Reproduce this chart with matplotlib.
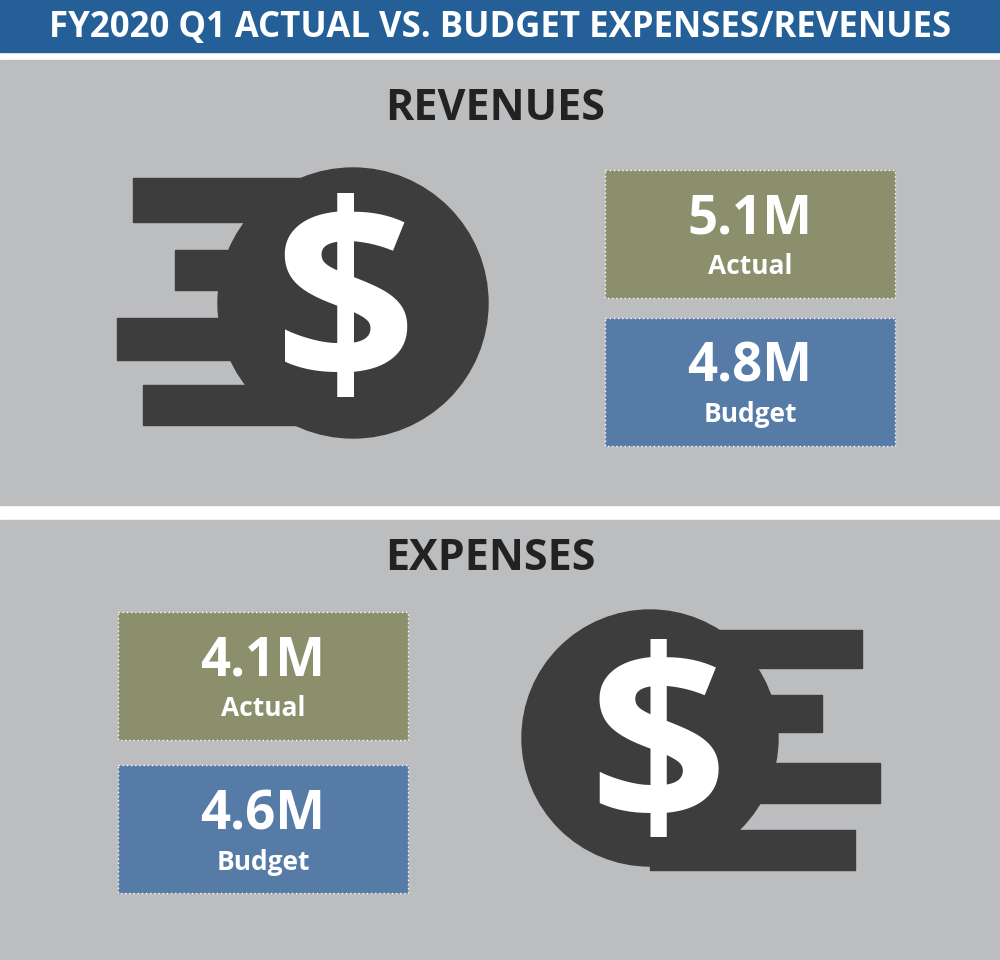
import matplotlib
matplotlib.use("Agg")
import matplotlib.pyplot as plt
from matplotlib.patches import Rectangle, Circle

title = "FY2020 Q1 ACTUAL VS. BUDGET EXPENSES/REVENUES"
sections = ["REVENUES", "EXPENSES"]
revenue_values = ["5.1M", "4.8M"]
expense_values = ["4.1M", "4.6M"]
labels = ["Actual", "Budget"]

FONT = "Open Sans"
fig = plt.figure(figsize=(10, 9.6), dpi=100)
ax = fig.add_axes([0, 0, 1, 1])
ax.set_xlim(0, 1000); ax.set_ylim(960, 0); ax.axis("off")
fig.patch.set_facecolor("white")

GRAY = "#bcbdbf"; DARK = "#3d3d3d"; OLIVE = "#8b8f6c"; BLUE = "#567ba6"
ax.add_patch(Rectangle((0, 0), 1000, 52, color="#245f97"))
ax.text(500, 28, title, color="white", fontsize=25, fontweight="bold", family=FONT, ha="center", va="center")
ax.add_patch(Rectangle((0, 60), 1000, 445, color=GRAY))
ax.add_patch(Rectangle((0, 520), 1000, 440, color=GRAY))
ax.text(495, 108, sections[0], fontsize=31, fontweight="bold", family=FONT, color="#222", ha="center", va="center")
ax.text(490, 558, sections[1], fontsize=31, fontweight="bold", family=FONT, color="#222", ha="center", va="center")

def boxes(x, ys, vals):
    for y, v, l, c in zip(ys, vals, labels, [OLIVE, BLUE]):
        ax.add_patch(Rectangle((x, y), 290, 128, facecolor=c, edgecolor="white", lw=1, ls=(0, (1, 2))))
        ax.text(x + 145, y + 50, v, fontsize=38, fontweight="bold", family=FONT, color="white", ha="center", va="center")
        ax.text(x + 145, y + 97, l, fontsize=19, fontweight="bold", family=FONT, color="white", ha="center", va="center")

boxes(605, [170, 318], revenue_values)
boxes(118, [612, 765], expense_values)

# revenue icon
for y0, y1, x0 in [(178, 222, 133), (250, 290, 175), (318, 360, 117), (385, 425, 143)]:
    ax.add_patch(Rectangle((x0, y0), 353 - x0, y1 - y0, color=DARK))
ax.add_patch(Circle((353, 303), 135, color=DARK))
ax.text(345, 318, "$", fontsize=180, fontweight="bold", family=FONT, color="white", ha="center", va="center")

# expense icon
for y0, y1, x1 in [(630, 668, 862), (695, 732, 822), (763, 803, 880), (830, 870, 855)]:
    ax.add_patch(Rectangle((650, y0), x1 - 650, y1 - y0, color=DARK))
ax.add_patch(Circle((650, 738), 128, color=DARK))
ax.text(658, 760, "$", fontsize=175, fontweight="bold", family=FONT, color="white", ha="center", va="center")

fig.savefig("out.png", dpi=100)
